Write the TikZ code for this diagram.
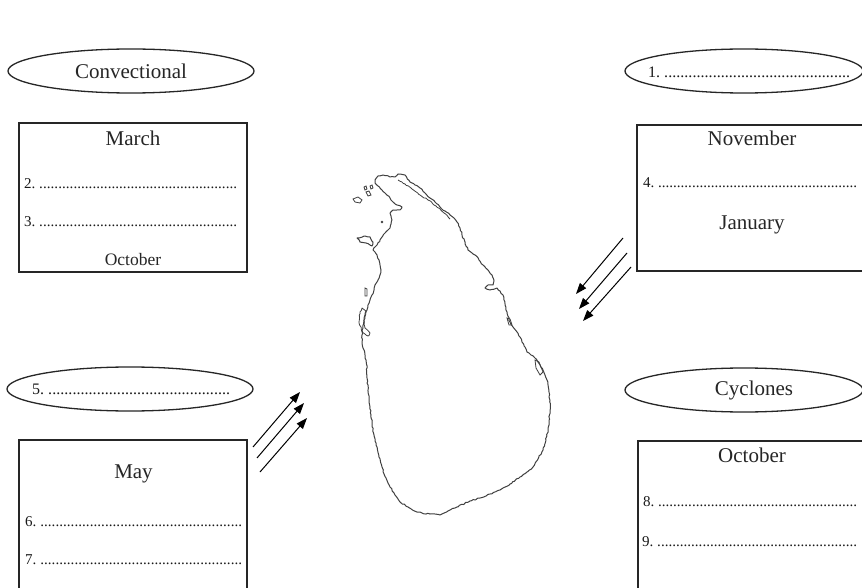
\documentclass[tikz,border=0pt]{standalone}
\usepackage{fontspec}
\setmainfont{Liberation Serif}
\usetikzlibrary{shapes.geometric,arrows.meta,decorations.pathmorphing}
\newcommand\dotrow[3]{{\fontsize{#3}{#3}\selectfont\makebox[#1][l]{#2\ \xleaders\hbox{.}\hfill}}}
\tikzset{
  oval/.style={draw=black!85,line width=1.3pt,ellipse,inner sep=0pt},
  panel/.style={draw=black!85,line width=1.4pt,rectangle,inner sep=0pt},
  big/.style={font=\fontsize{21}{21}\selectfont,inner sep=0pt,text=black!85},
  small/.style={font=\fontsize{17.5}{17.5}\selectfont,inner sep=0pt,text=black!85},
  lst/.style={inner sep=0pt,anchor=west,text=black!90},
  wind/.style={draw=black,line width=1pt,-{Triangle[length=11pt,width=8pt]}},
  coast/.style={draw=black!75,line width=1pt,line join=round,
    decorate,decoration={random steps,segment length=2.2pt,amplitude=0.6pt}}
}
\begin{document}
\begin{tikzpicture}[x=1pt,y=-1pt]
\pgfmathsetseed{7}
\clip (0,0) rectangle (862,588);
\fill[white] (0,0) rectangle (862,588);

% ---- top left
\node[oval,minimum width=246pt,minimum height=44pt] (conv) at (131,71) {};
\node[big] (convt) at (131,71) {Convectional};
\node[panel,minimum width=228pt,minimum height=149pt] (boxA) at (133,197.5) {};
\node[big] (march) at (133,138) {March};
\node[lst] (l2) at (24,184) {\dotrow{213pt}{2.}{15}};
\node[lst] (l3) at (24,222) {\dotrow{213pt}{3.}{15}};
\node[small] (octA) at (133,260) {October};

% ---- top right
\node[oval,minimum width=238pt,minimum height=44pt] (ne) at (744,71) {};
\node[lst] (l1) at (648,72) {\dotrow{202pt}{1.}{16}};
\node[panel,minimum width=230pt,minimum height=146pt] (boxB) at (752,198) {};
\node[big] (nov) at (752,138) {November};
\node[lst] (l4) at (643,183) {\dotrow{214pt}{4.}{15}};
\node[big] (jan) at (752,225) {January};

% ---- bottom left
\node[oval,minimum width=246pt,minimum height=44pt] (sw) at (130,389) {};
\node[lst] (l5) at (32,389) {\dotrow{198pt}{5.}{16}};
\node[panel,minimum width=228pt,minimum height=170pt] (boxC) at (133,525) {};
\node[big] (may) at (133.5,474) {May};
\node[lst] (l6) at (25,522) {\dotrow{217pt}{6.}{15}};
\node[lst] (l7) at (25,560) {\dotrow{217pt}{7.}{15}};

% ---- bottom right
\node[oval,minimum width=238pt,minimum height=44pt] (cyc) at (744,390) {};
\node[big] (cyct) at (754,390) {Cyclones};
\node[panel,minimum width=230pt,minimum height=170pt] (boxD) at (753,526) {};
\node[big] (octB) at (752,455) {October};
\node[lst] (l8) at (643,502) {\dotrow{214pt}{8.}{15}};
\node[lst] (l9) at (642,542) {\dotrow{215pt}{9.}{15}};

% ---- wind arrows
\coordinate (sa1) at (253,447); \coordinate (ea1) at (300,392);
\coordinate (sa2) at (257,458); \coordinate (ea2) at (304,403);
\coordinate (sa3) at (260,472); \coordinate (ea3) at (307,418);
\draw[wind] (sa1) -- (ea1);
\draw[wind] (sa2) -- (ea2);
\draw[wind] (sa3) -- (ea3);
\coordinate (sb1) at (623,238); \coordinate (eb1) at (576,294);
\coordinate (sb2) at (627,253); \coordinate (eb2) at (579,309);
\coordinate (sb3) at (631,267); \coordinate (eb3) at (583,321);
\draw[wind] (sb1) -- (eb1);
\draw[wind] (sb2) -- (eb2);
\draw[wind] (sb3) -- (eb3);

% ---- Sri Lanka outline
\draw[coast] (375,180) -- (378,176) -- (383,175) -- (390,177) -- (395,177) -- (398,174) -- (405,175) -- (410,182) -- (415,185) -- (420,188) -- (425,193) -- (430,198) -- (435,202) -- (440,207) -- (445,211) -- (450,215) -- (454,218) -- (457,222) -- (460,228) -- (462,235) -- (465,242) -- (468,250) -- (472,253) -- (475,255) -- (479,260) -- (483,265) -- (488,270) -- (492,275) -- (494,280) -- (493,285) -- (488,285) -- (485,288) -- (490,290) -- (497,288) -- (500,291) -- (503,295) -- (504,300) -- (505,305) -- (507,312) -- (510,322) -- (513,327) -- (517,332) -- (520,337) -- (522,342) -- (525,347) -- (527,352) -- (531,355) -- (535,358) -- (538,362) -- (540,365) -- (543,370) -- (545,375) -- (547,380) -- (548,385) -- (549,392) -- (550,400) -- (550,410) -- (549,420) -- (548,430) -- (546,440) -- (543,450) -- (538,459) -- (533,467) -- (527,472) -- (520,477) -- (510,484) -- (500,490) -- (490,494) -- (480,498) -- (470,501) -- (457,507) -- (448,511) -- (440,515) -- (435,514) -- (430,514) -- (422,513) -- (417,512) -- (408,507) -- (400,502) -- (395,495) -- (390,487) -- (386,478) -- (382,467) -- (379,457) -- (377,447) -- (374,435) -- (372,423) -- (371,415) -- (370,407) -- (369,398) -- (368,390) -- (367,378) -- (367,368) -- (366,360) -- (365,355) -- (363,348) -- (362,342) -- (362,335) -- (363,328) -- (364,320) -- (365,315) -- (367,310) -- (368,305) -- (370,300) -- (372,295) -- (374,290) -- (375,285) -- (378,280) -- (380,275) -- (381,270) -- (380,265) -- (379,260) -- (377,255) -- (375,252) -- (373,250) -- (375,247) -- (377,245) -- (380,240) -- (385,233) -- (388,230) -- (390,228) -- (391,224) -- (392,220) -- (391,216) -- (390,213) -- (393,210) -- (397,210) -- (400,210) -- (402,207) -- (397,205) -- (393,202) -- (390,198) -- (385,193) -- (382,190) -- (378,186) -- (375,183) -- cycle;
% lagoon line of the peninsula
\draw[coast,line width=0.8pt] (398,180) -- (405,184) -- (412,189) -- (420,195) -- (428,200) -- (436,206) -- (444,213) -- (450,219);
% Mannar island
\draw[coast] (357,238) -- (365,236) -- (370,237) -- (373,242) -- (372,246) -- (366,243) -- (360,242) -- cycle;
% small islands
\draw[draw=black!75,line width=0.8pt] (353,199) -- (358,197) -- (362,200) -- (360,203) -- (355,202) -- cycle;
\draw[draw=black!75,line width=0.8pt] (364,187) -- (366,186) -- (367,189) -- (365,190) -- cycle;
\draw[draw=black!75,line width=0.8pt] (366,192) -- (369,191) -- (371,195) -- (368,196) -- cycle;
\draw[draw=black!75,line width=0.8pt] (370,186) -- (372,185) -- (373,188) -- (371,189) -- cycle;
\fill[black!75] (382,222) circle (1.3pt);
% west lagoons
\draw[coast,line width=0.8pt] (362,308) -- (366,312) -- (364,320) -- (365,328) -- (370,333) -- (368,336) -- (362,332) -- (359,322) -- (360,312) -- cycle;
\draw[draw=black!75,line width=0.8pt] (365,288) -- (367,289) -- (367,296) -- (365,296) -- cycle;
% east lagoons
\draw[draw=black!75,line width=0.8pt] (535,360) -- (539,362) -- (543,372) -- (540,375) -- (536,368) -- cycle;
\draw[draw=black!75,line width=0.8pt] (507,318) -- (510,319) -- (512,325) -- (509,325) -- cycle;
\end{tikzpicture}
\end{document}
